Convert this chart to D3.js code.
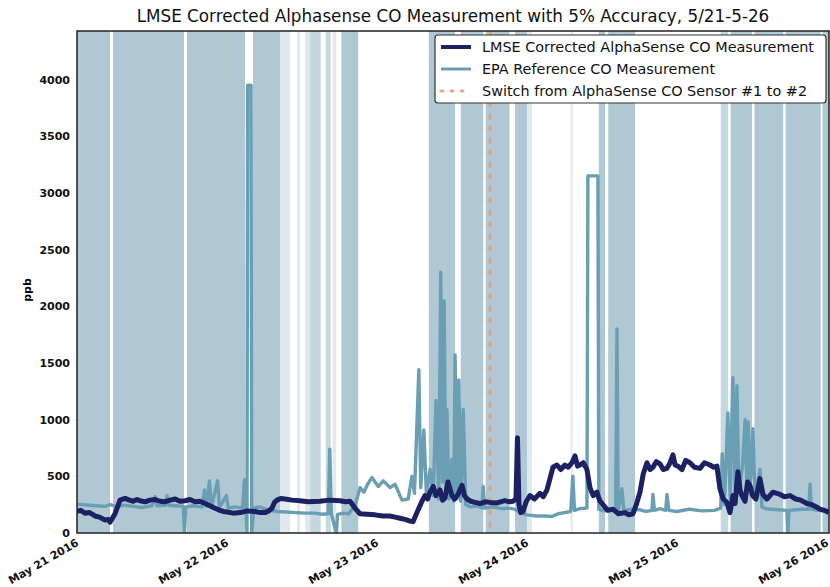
<!DOCTYPE html>
<html><head><meta charset="utf-8">
<script src="https://cdn.jsdelivr.net/npm/d3@7"></script>
<style>body{margin:0;background:#fff}svg{display:block}text{font-family:"DejaVu Sans",sans-serif}</style>
</head><body><svg id="c" width="830" height="587"></svg>
<script>
// ---- data (hours since May 21 2016 00:00) ----
const lmseHours = [0,0.6,1.28,2.0,2.88,3.6,4.48,5.0,5.28,6.08,6.88,7.68,8.4,9.0,9.6,10.08,10.9,11.68,12.5,13.28,14.0,14.88,15.7,16.48,17.3,18.08,18.9,19.68,20.5,21.28,22.0,22.88,23.4,24.0,25.0,26.08,27.3,28.48,29.3,30.08,30.7,31.2,31.6,32.0,32.6,33.28,34.4,35.68,37.0,38.88,40.4,42.08,43.0,43.68,44.48,45.28,46.4,47.68,48.9,50.08,50.9,51.68,52.5,53.28,53.76,54.56,55.2,55.68,56.1,56.48,57.0,57.44,58.08,58.5,58.88,59.36,60.0,60.4,60.96,61.6,62.0,62.4,63.0,63.68,64.5,65.3,66.08,67.2,68.48,69.2,69.76,70.24,70.48,70.72,71.0,71.36,71.9,72.48,73.2,74.08,74.6,75.2,75.68,76.16,76.8,77.4,78.08,78.6,79.2,79.68,80.1,80.48,81.0,81.6,82.08,82.6,83.2,83.6,84.16,84.9,85.76,86.6,87.68,88.3,88.96,89.5,90.08,90.6,91.2,91.7,92.16,92.7,93.28,93.8,94.4,94.9,95.36,95.7,96.16,96.8,97.4,98.08,98.8,99.68,100.4,101.28,101.9,102.4,102.88,103.4,104.0,104.48,104.96,105.3,105.76,106.1,106.4,106.9,107.3,107.68,108.1,108.64,109.28,109.76,110.4,111.36,112.5,113.2,114.08,115.0,115.8,116.8,117.6,118.3,118.88,119.6,120.32];
const lmseValues = [190,200,175,180,150,140,115,120,95,170,290,305,290,280,295,285,275,290,295,280,275,290,300,280,285,295,275,280,260,240,220,200,190,185,175,180,195,190,180,180,195,220,270,290,305,300,290,285,275,280,290,285,275,280,220,170,165,160,150,150,140,130,120,105,100,200,280,330,300,360,410,330,380,290,310,450,330,300,340,420,330,300,280,270,260,275,270,265,285,275,280,300,840,250,180,190,280,330,300,350,320,380,480,580,600,560,600,580,620,680,590,600,620,560,400,330,360,290,250,200,210,170,180,160,170,250,360,520,620,560,580,630,610,560,570,620,690,600,590,560,640,620,580,570,620,600,580,590,390,300,270,180,330,260,540,380,330,280,450,420,330,300,480,340,300,360,340,320,330,300,290,260,250,230,210,200,180];

const epaHours = [0,1.0,2.0,3.2,4.5,5.3,6.5,7.6,9.0,10.4,12.0,12.5,12.8,14.2,14.4,14.7,15.8,17.0,17.2,17.4,18.6,20.0,20.4,20.7,21.2,21.5,22.5,22.8,23.9,24.2,25.3,26.5,26.8,27.05,27.2,27.3,27.85,27.95,28.3,29.2,30.0,31.0,32.0,33.5,35.0,36.5,38.0,39.2,40.2,40.45,40.7,41.5,41.7,42.6,43.5,44.5,45.3,45.9,46.5,47.2,48.2,49.0,50.1,50.9,52.0,53.0,53.6,54.0,54.7,55.0,55.5,55.9,56.5,57.0,57.45,57.9,58.2,58.5,58.75,59.0,59.2,59.5,60.0,60.3,60.5,60.8,61.1,61.4,61.8,62.2,63.0,64.0,64.8,65.0,65.2,66.5,68.0,69.0,70.0,71.0,72.0,73.5,75.0,76.0,77.0,78.0,79.0,79.35,79.6,80.5,81.6,81.75,83.35,83.5,84.2,85.0,86.2,86.4,86.6,87.2,87.5,88.8,90.0,91.0,92.0,92.15,92.4,93.3,94.2,94.4,94.7,96.0,98.0,100.0,102.0,103.0,103.25,103.6,104.15,104.5,104.95,105.3,105.6,105.9,106.5,106.9,107.2,107.4,107.7,108.15,108.5,109.3,109.6,110.2,111.0,112.3,113.6,113.76,113.9,115.0,116.0,117.1,117.3,117.5,118.5,119.4,120.32];
const epaValues = [255,250,245,240,235,250,230,245,235,225,240,320,240,245,330,245,240,235,0,230,240,230,380,235,460,230,460,225,330,220,230,220,470,200,0,3950,3950,0,220,230,215,200,190,185,180,175,175,165,170,740,170,0,165,175,170,250,400,360,430,490,410,460,400,430,290,300,500,350,1440,400,910,350,560,330,1170,300,2300,450,2050,350,1090,300,650,280,1570,300,1350,280,1090,250,230,240,220,410,220,230,215,220,210,180,160,150,150,145,170,180,190,500,200,215,220,3150,3150,210,195,200,200,1800,200,390,200,210,205,190,200,340,200,215,200,340,200,190,210,195,200,220,700,250,1060,300,1370,400,1300,350,600,1000,400,980,350,920,300,560,230,215,210,205,200,0,200,205,210,210,430,210,200,195,190];

// shaded accuracy band intervals (hours) and their tone
const bandStart = [0,5.76,17.6,28.16,32.5,35.2,36.5,37.3,38.2,39.8,40.9,42.3,56.3,61.4,65.4,70.1,72.0,79.0,83.5,85.0,103.0,104.6,108.4,113.4,119.3];
const bandEnd   = [5.28,17.12,26.88,32.48,34.1,35.7,37.4,38.3,39.0,40.6,41.5,45.0,60.5,65.0,69.2,72.0,72.8,79.3,84.5,89.3,104.2,108.0,113.0,119.0,121];
const bandTone  = ["d","d","d","d","l","l","l","m","m","m","l","d","d","d","d","d","l","l","d","d","m","d","d","d","d"];

const switchHour = 66.1;
const yTicks = [0,500,1000,1500,2000,2500,3000,3500,4000];
const xTickDays = ["2016-05-21","2016-05-22","2016-05-23","2016-05-24","2016-05-25","2016-05-26"];
const legendLabels = ["LMSE Corrected AlphaSense CO Measurement","EPA Reference CO Measurement","Switch from AlphaSense CO Sensor #1 to #2"];
const titleText = "LMSE Corrected Alphasense CO Measurement with 5% Accuracy, 5/21-5-26";

// ---- layout ----
const svg = d3.select("#c");
const L = 77, R = 829, T = 31, B = 533;
const t0 = Date.UTC(2016,4,21);
const toDate = h => new Date(t0 + h*3600e3);
const x = d3.scaleUtc().domain([toDate(0), toDate(120.33)]).range([L, R]);
const y = d3.scaleLinear().domain([0, 4428]).range([B, T]);

const tones = {d:"#afc8d3", m:"#c4d8e1", l:"#dfeaef"};
svg.append("defs").append("clipPath").attr("id","clip").append("rect")
  .attr("x",L).attr("y",T).attr("width",R-L).attr("height",B-T);
const g = svg.append("g").attr("clip-path","url(#clip)");

g.selectAll("rect.band").data(bandStart.map((s,i)=>({s, e:bandEnd[i], t:bandTone[i]})))
  .join("rect").attr("class","band")
  .attr("x", d=>x(toDate(d.s))).attr("width", d=>x(toDate(d.e))-x(toDate(d.s)))
  .attr("y", T).attr("height", B-T).attr("fill", d=>tones[d.t]);

// switch line
g.append("line").attr("x1",x(toDate(switchHour))).attr("x2",x(toDate(switchHour)))
  .attr("y1",T).attr("y2",B).attr("stroke","#e8a067").attr("stroke-width",3)
  .attr("stroke-dasharray","3,9").attr("stroke-linecap","round").attr("opacity",0.9);

const line = d3.line().x(d=>x(toDate(d[0]))).y(d=>y(d[1]));
g.append("path").datum(epaHours.map((h,i)=>[h,epaValues[i]]))
  .attr("d",line).attr("fill","none").attr("stroke","#6a9fb3").attr("stroke-width",3.4)
  .attr("stroke-linejoin","round");
g.append("path").datum(lmseHours.map((h,i)=>[h,lmseValues[i]]))
  .attr("d",line).attr("fill","none").attr("stroke","#1b2163").attr("stroke-width",5)
  .attr("stroke-linejoin","round");

// frame
svg.append("rect").attr("x",L).attr("y",T).attr("width",R-L).attr("height",B-T)
  .attr("fill","none").attr("stroke","#222").attr("stroke-width",1.5);

// axes
const yAxis = d3.axisLeft(y).tickValues(yTicks).tickFormat(d3.format("d")).tickSize(0).tickPadding(7);
const ya = svg.append("g").attr("transform",`translate(${L},0)`).call(yAxis);
ya.select(".domain").remove();
ya.selectAll("text").attr("font-size",11).attr("font-weight","bold").attr("fill","#111")
  .style("font-family","DejaVu Sans");

const xAxis = d3.axisBottom(x).tickValues(xTickDays.map(s=>new Date(s+"T00:00:00Z")))
  .tickFormat(d3.utcFormat("%b %d %Y")).tickSize(0).tickPadding(0);
const xa = svg.append("g").attr("transform",`translate(0,${B})`).call(xAxis);
xa.select(".domain").remove();
xa.selectAll("text").attr("font-size",11).attr("font-weight","bold").attr("fill","#111")
  .style("font-family","DejaVu Sans")
  .attr("text-anchor","end").attr("dy",0).attr("y",0)
  .attr("transform","translate(2,12) rotate(-30)");

svg.append("text").attr("transform","translate(31,290) rotate(-90)")
  .attr("text-anchor","middle").attr("font-size",11).attr("font-weight","bold").text("ppb");

svg.append("text").attr("x",(L+R)/2).attr("y",22).attr("text-anchor","middle")
  .attr("font-size",16.8).attr("fill","#111").text(titleText);

// legend
const lg = svg.append("g");
lg.append("rect").attr("x",435).attr("y",35).attr("width",391).attr("height",68)
  .attr("rx",3).attr("fill","#fff").attr("stroke","#333").attr("stroke-width",1.2);
const lstyles = [
  {c:"#1b2163", w:4, dash:null},
  {c:"#6a9fb3", w:3, dash:null},
  {c:"#f2a582", w:3, dash:"2,8"}
];
legendLabels.forEach((t,i)=>{
  const yy = 47 + i*22;
  const ln = lg.append("line").attr("x1",441).attr("x2",471).attr("y1",yy).attr("y2",yy)
    .attr("stroke",lstyles[i].c).attr("stroke-width",lstyles[i].w);
  if (lstyles[i].dash) ln.attr("stroke-dasharray",lstyles[i].dash).attr("stroke-linecap","round");
  lg.append("text").attr("x",482).attr("y",yy+5).attr("font-size",14.4).attr("fill","#111").text(t);
});
</script></body></html>
